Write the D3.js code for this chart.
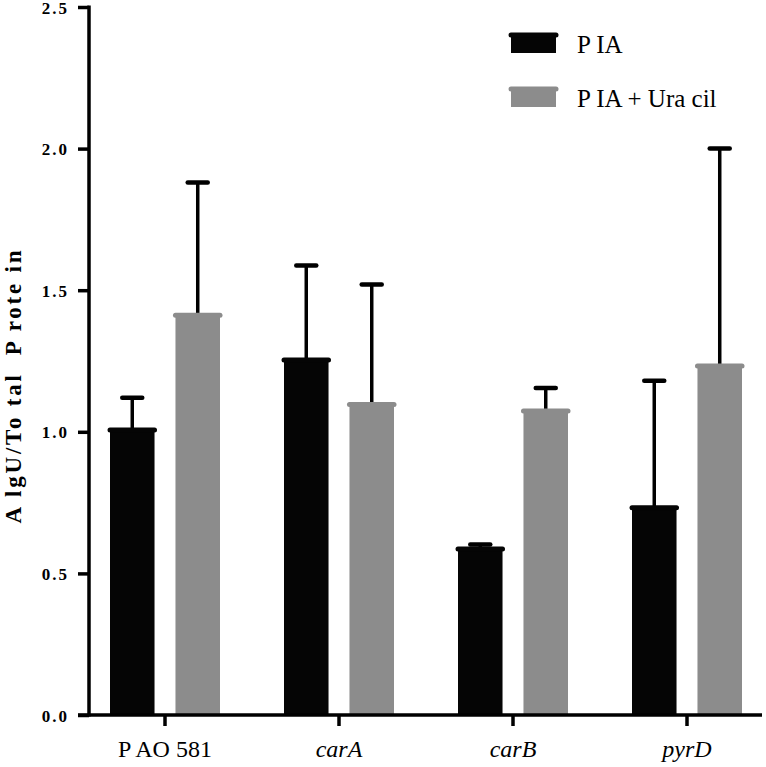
<!DOCTYPE html>
<html><head><meta charset="utf-8">
<script src="https://cdn.jsdelivr.net/npm/d3@7"></script>
<style>body{margin:0;background:#fff}svg{display:block}</style>
</head><body>
<script>
const categories = ["P AO 581", "carA", "carB", "pyrD"];
const italicCats = [false, true, true, true];
const seriesNames = ["P IA", "P IA + Ura cil"];
const piaValues = [1.01, 1.257, 0.59, 0.735];
const piaErrors = [0.11, 0.33, 0.012, 0.445];
const uraValues = [1.415, 1.10, 1.077, 1.236];
const uraErrors = [0.465, 0.42, 0.078, 0.764];
const yTicks = [0.0, 0.5, 1.0, 1.5, 2.0, 2.5];
const colors = ["#050505", "#8c8c8c"];
const FONT = '"Liberation Serif"';

const W = 766, H = 767;
const svg = d3.select("body").append("svg").attr("width", W).attr("height", H)
  .style("font-family", FONT);
const y = d3.scaleLinear().domain([0, 2.5]).range([715, 7]);
const x = d3.scaleBand().domain(categories).range([78, 774]);
const inner = d3.scaleBand().domain([0, 1]).range([-55, 55]).paddingInner(0.32);

const series = [
  {vals: piaValues, errs: piaErrors},
  {vals: uraValues, errs: uraErrors}
];

const g = svg.append("g");
series.forEach((s, si) => {
  categories.forEach((c, i) => {
    const cx = x(c) + x.bandwidth() / 2;
    const x0 = cx + inner(si), bw = inner.bandwidth();
    const top = y(s.vals[i]);
    const ey = y(s.vals[i] + s.errs[i]);
    const mid = x0 + bw / 2;
    g.append("line").attr("x1", mid).attr("x2", mid).attr("y1", top).attr("y2", ey)
      .attr("stroke", "#000").attr("stroke-width", 3.5);
    g.append("line").attr("x1", mid - 10).attr("x2", mid + 10).attr("y1", ey).attr("y2", ey)
      .attr("stroke", "#000").attr("stroke-width", 4.5).attr("stroke-linecap", "round");
    g.append("rect").attr("x", x0).attr("y", top).attr("width", bw).attr("height", y(0) - top)
      .attr("fill", colors[si]);
    g.append("line").attr("x1", x0).attr("x2", x0 + bw).attr("y1", top + 1).attr("y2", top + 1)
      .attr("stroke", colors[si]).attr("stroke-width", 5).attr("stroke-linecap", "round");
  });
});

// Y axis
const yAxis = d3.axisLeft(y).tickValues(yTicks).tickFormat(d3.format(".1f")).tickSize(11).tickPadding(9);
const ya = svg.append("g").attr("transform", "translate(89,0)").call(yAxis);
ya.attr("font-family", null);
ya.select(".domain").attr("stroke", "#000").attr("stroke-width", 3.5).attr("d", "M0,5.5V716.5");
ya.selectAll(".tick line").attr("stroke", "#000").attr("stroke-width", 3.5);
ya.selectAll(".tick text").style("font-family", FONT).attr("font-weight", "bold").attr("font-size", 17)
  .attr("fill", "#000").style("letter-spacing", "2px").attr("dy", "0.36em");

// X axis
const xAxis = d3.axisBottom(x).tickSize(11).tickPadding(14);
const xa = svg.append("g").attr("transform", "translate(0,715)").call(xAxis);
xa.attr("font-family", null);
xa.select(".domain").attr("stroke", "#000").attr("stroke-width", 3.5).attr("d", "M78,0H762");
xa.selectAll(".tick line").attr("stroke", "#000").attr("stroke-width", 3.5).attr("y1", 0);
xa.selectAll(".tick text").style("font-family", FONT).attr("font-size", 24).attr("fill", "#000")
  .style("font-style", (d, i) => italicCats[i] ? "italic" : "normal");

// Y title
svg.append("text").attr("transform", "translate(21,387) rotate(-90)")
  .attr("text-anchor", "middle").style("font-family", FONT)
  .attr("font-weight", "bold").attr("font-size", 23).attr("fill", "#000")
  .style("white-space", "pre").attr("textLength", 273).attr("lengthAdjust", "spacing")
  .text("A lgU/To tal  P rote in");

// Legend
seriesNames.forEach((n, i) => {
  const ly = 33 + i * 54;
  svg.append("rect").attr("x", 511).attr("y", ly + 2).attr("width", 45).attr("height", 18).attr("fill", colors[i]);
  svg.append("line").attr("x1", 511).attr("x2", 556).attr("y1", ly + 2).attr("y2", ly + 2)
    .attr("stroke", colors[i]).attr("stroke-width", 5).attr("stroke-linecap", "round");
  svg.append("text").attr("x", 577).attr("y", ly + 20).style("font-family", FONT)
    .attr("font-size", 25).attr("fill", "#000")
    .style("white-space", "pre").text(n);
});
</script>
</body></html>
